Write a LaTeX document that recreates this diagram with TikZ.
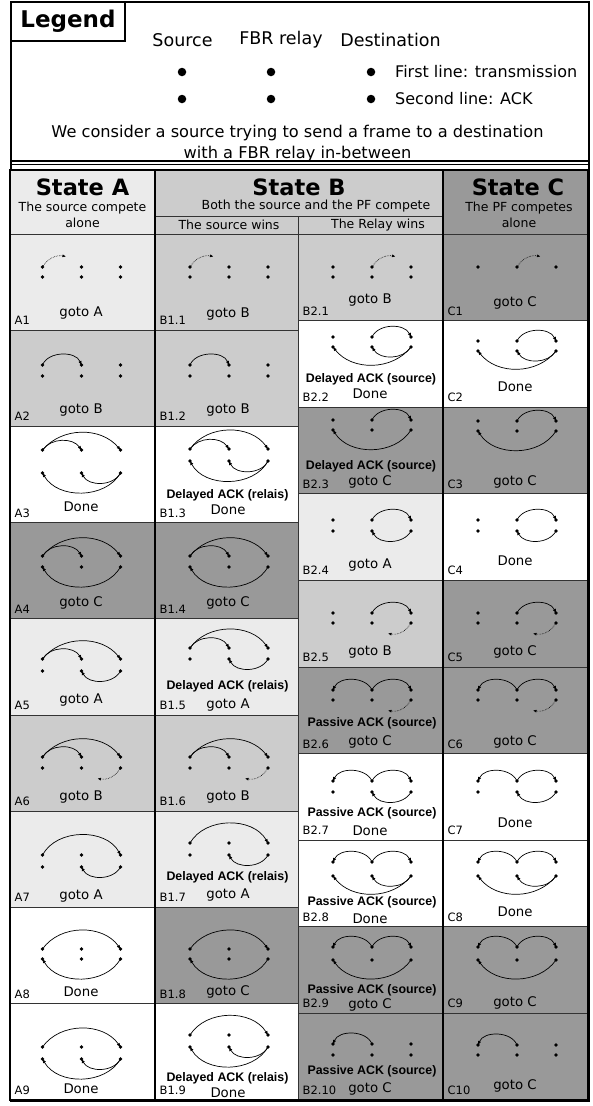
\documentclass[tikz,border=0pt]{standalone}
\usepackage{fontspec}
\setmainfont{DejaVu Sans}
\newfontfamily\arialfont{Liberation Sans}
\usetikzlibrary{arrows.meta,calc}
\definecolor{stA}{HTML}{EBEBEB}
\definecolor{stB}{HTML}{CCCCCC}
\definecolor{stC}{HTML}{999999}
\definecolor{rule}{HTML}{333333}

% six stations of one case: source, relay, destination (top: frame, bottom: ACK)
\newcommand\pts[4]{%
  \coordinate (#1-st) at (#2-39,#3);
  \coordinate (#1-rt) at (#2,#3);
  \coordinate (#1-dt) at (#2+39,#3);
  \coordinate (#1-sa) at (#2-39,#4);
  \coordinate (#1-ra) at (#2,#4);
  \coordinate (#1-da) at (#2+39,#4);}
\newcommand\showpts[2]{\foreach \q in {#2} \fill (#1-\q) circle (1.9);}
\newcommand\allpts[1]{\showpts{#1}{st,rt,dt,sa,ra,da}}
% collided frames
\newcommand\probeout[2]{%
  \coordinate (#1-pe) at ($(#1-#2)+(23.5,-10.5)$);
  \draw[probe] (#1-#2) to[bend left=35] (#1-pe);}
\newcommand\probeback[1]{%
  \coordinate (#1-pe) at ($(#1-da)+(-23,10.5)$);
  \draw[probe] (#1-da) to[bend left=35] (#1-pe);}

\begin{document}
\begin{tikzpicture}[x=1pt,y=-1pt,
    cellbox/.style={draw=rule,line width=0.8pt,anchor=north west,inner sep=0pt,outer sep=0pt},
    cellid/.style={anchor=base west,xshift=4.5pt,yshift=5.5pt,inner sep=0pt,font=\fontsize{11.5}{13}\selectfont},
    result/.style={inner sep=0pt,font=\fontsize{13.3}{15}\selectfont},
    ackmsg/.style={inner sep=0pt,font=\arialfont\bfseries\fontsize{12.4}{14}\selectfont},
    statetitle/.style={inner sep=0pt,font=\bfseries\fontsize{22.5}{26}\selectfont},
    statesub/.style={inner sep=0pt,align=center,font=\fontsize{12.5}{16.5}\selectfont},
    legtext/.style={inner sep=0pt,font=\fontsize{16}{22}\selectfont},
    legdot/.style={circle,fill,inner sep=0pt,minimum size=8.5pt},
    tx/.style={-{Latex[length=4pt,width=3.4pt]},line width=0.7pt},
    probe/.style={-{Latex[length=3.5pt,width=3pt]},line width=0.6pt,densely dotted}]
  \useasboundingbox (0,0) rectangle (592,1106);

  % legend
  \node[draw,line width=2.2pt,anchor=north west,inner sep=0pt,minimum width=577.5pt,minimum height=1099pt] (frame) at (10,1) {};
  \node[draw,line width=2pt,anchor=north west,inner sep=0pt,minimum width=114pt,minimum height=39pt,
    font=\bfseries\fontsize{23}{26}\selectfont] (legend) at (10,1) {Legend};
  \node[legtext,font=\fontsize{17.5}{20}\selectfont] (src) at (182.5,40) {Source};
  \node[legtext,font=\fontsize{17.5}{20}\selectfont] (fbr) at (281,40) {FBR relay};
  \node[legtext,font=\fontsize{17.5}{20}\selectfont] (dst) at (390.5,40) {Destination};
  \node[legdot] (src-t) at (182,72) {};
  \node[legdot] (fbr-t) at (271,72) {};
  \node[legdot] (dst-t) at (371,72) {};
  \node[legdot] (src-a) at (182,99) {};
  \node[legdot] (fbr-a) at (271,99) {};
  \node[legdot] (dst-a) at (371,99) {};
  \node[legtext,anchor=west] (line1) at (395,72) {First line: transmission};
  \node[legtext,anchor=west] (line2) at (395,99) {Second line: ACK};
  \node[legtext,align=center,font=\fontsize{16.2}{21.5}\selectfont] (story) at (297.5,143.5) {We consider a source trying to send a frame to a destination\\with a FBR relay in-between};
  \draw[line width=1.2pt] (10,161) -- (587.5,161);
  \draw[line width=1.2pt] (10,164.5) -- (587.5,164.5);

  % header
  \node[cellbox,fill=stA,minimum width=145pt,minimum height=64pt] (hA) at (10,170) {};
  \node[cellbox,fill=stB,minimum width=288pt,minimum height=46pt] (hB) at (155,170) {};
  \node[cellbox,fill=stB,minimum width=143pt,minimum height=18pt] (hBs) at (155,216) {};
  \node[cellbox,fill=stB,minimum width=145pt,minimum height=18pt] (hBr) at (298,216) {};
  \node[cellbox,fill=stC,minimum width=145pt,minimum height=64pt] (hC) at (443,170) {};
  \node[statetitle] (hA-t) at (82.5,187) {State A};
  \node[statesub] (hA-s) at (82.5,215) {The source compete\\alone};
  \node[statetitle] (hB-t) at (299,187) {State B};
  \node[statesub] (hB-s) at (316,206) {Both the source and the PF compete};
  \node[statesub] (hBs-t) at (229,225) {The source wins};
  \node[statesub] (hBr-t) at (378,225) {The Relay wins};
  \node[statetitle] (hC-t) at (518,187) {State C};
  \node[statesub] (hC-s) at (519,215) {The PF competes\\alone};

  % cases
  \foreach \i/\f [count=\k from 0] in {1/stA,2/stB,3/white,4/stC,5/stA,6/stB,7/stA,8/white,9/white}{
    \node[cellbox,fill=\f,minimum width=145pt,minimum height=96.2pt] (A\i) at (10,234+96.2*\k) {};
    \node[cellid] (A\i-id) at (A\i.south west) {A\i};}
  \foreach \i/\f [count=\k from 0] in {1/stB,2/stB,3/white,4/stC,5/stA,6/stB,7/stA,8/stC,9/white}{
    \node[cellbox,fill=\f,minimum width=143pt,minimum height=96.2pt] (Bs\i) at (155,234+96.2*\k) {};
    \node[cellid] (Bs\i-id) at (Bs\i.south west) {B1.\i};}
  \foreach \i/\f [count=\k from 0] in {1/stB,2/white,3/stC,4/stA,5/stB,6/stC,7/white,8/white,9/stC,10/stC}{
    \node[cellbox,fill=\f,minimum width=145pt,minimum height=86.6pt] (Br\i) at (298,234+86.6*\k) {};
    \node[cellid] (Br\i-id) at (Br\i.south west) {B2.\i};}
  \foreach \i/\f [count=\k from 0] in {1/stC,2/white,3/stC,4/white,5/stC,6/stC,7/white,8/white,9/stC,10/stC}{
    \node[cellbox,fill=\f,minimum width=145pt,minimum height=86.6pt] (C\i) at (443,234+86.6*\k) {};
    \node[cellid] (C\i-id) at (C\i.south west) {C\i};}

  % state A
  \pts{A1}{81.5}{267}{277}\allpts{A1}
  \probeout{A1}{st}
  \node[result] (A1-res) at (81,313) {goto A};
  \pts{A2}{81.5}{365}{376}\allpts{A2}
  \draw[tx] (A2-st) to[bend left=68] (A2-rt);
  \node[result] (A2-res) at (81,410) {goto B};
  \pts{A3}{81.5}{450}{473}\allpts{A3}
  \draw[tx] (A3-st) to[bend left=55] (A3-rt);
  \draw[tx] (A3-st) to[bend left=50] (A3-dt);
  \draw[tx] (A3-da) to[bend left=60] (A3-sa);
  \draw[tx] (A3-da) to[bend left=62] (A3-ra);
  \node[result] (A3-res) at (81,507) {Done};
  \pts{A4}{81.5}{556}{567}\allpts{A4}
  \draw[tx] (A4-st) to[bend left=60] (A4-rt);
  \draw[tx] (A4-st) to[bend left=52] (A4-dt);
  \draw[tx] (A4-da) to[bend left=60] (A4-sa);
  \node[result] (A4-res) at (81,603) {goto C};
  \pts{A5}{81.5}{659}{671}\allpts{A5}
  \draw[tx] (A5-st) to[bend left=60] (A5-rt);
  \draw[tx] (A5-st) to[bend left=52] (A5-dt);
  \draw[tx] (A5-da) to[bend left=62] (A5-ra);
  \node[result] (A5-res) at (81,700) {goto A};
  \pts{A6}{81.5}{757}{768}\allpts{A6}
  \draw[tx] (A6-st) to[bend left=60] (A6-rt);
  \draw[tx] (A6-st) to[bend left=52] (A6-dt);
  \probeback{A6}
  \node[result] (A6-res) at (81,797) {goto B};
  \pts{A7}{81.5}{855}{867}\allpts{A7}
  \draw[tx] (A7-st) to[bend left=62] (A7-dt);
  \draw[tx] (A7-da) to[bend left=62] (A7-ra);
  \node[result] (A7-res) at (81,896) {goto A};
  \pts{A8}{81.5}{949}{959}\allpts{A8}
  \draw[tx] (A8-st) to[bend left=55] (A8-dt);
  \draw[tx] (A8-da) to[bend left=60] (A8-sa);
  \node[result] (A8-res) at (81,992) {Done};
  \pts{A9}{81.5}{1047}{1059}\allpts{A9}
  \draw[tx] (A9-st) to[bend left=55] (A9-dt);
  \draw[tx] (A9-da) to[bend left=60] (A9-sa);
  \draw[tx] (A9-da) to[bend left=62] (A9-ra);
  \node[result] (A9-res) at (81,1089) {Done};

  % state B, the source wins
  \pts{Bs1}{229}{267}{277}\allpts{Bs1}
  \probeout{Bs1}{st}
  \node[result] (Bs1-res) at (228,314) {goto B};
  \pts{Bs2}{229}{365}{376}\allpts{Bs2}
  \draw[tx] (Bs2-st) to[bend left=68] (Bs2-rt);
  \node[result] (Bs2-res) at (228,410) {goto B};
  \pts{Bs3}{229}{449}{461}\allpts{Bs3}
  \draw[tx] (Bs3-st) to[bend left=55] (Bs3-rt);
  \draw[tx] (Bs3-st) to[bend left=55] (Bs3-dt);
  \draw[tx] (Bs3-da) to[bend left=62] (Bs3-sa);
  \draw[tx] (Bs3-da) to[bend left=65] (Bs3-ra);
  \node[ackmsg] (Bs3-ack) at (227.5,495) {Delayed ACK (relais)};
  \node[result] (Bs3-res) at (228,510) {Done};
  \pts{Bs4}{229}{556}{567}\allpts{Bs4}
  \draw[tx] (Bs4-st) to[bend left=60] (Bs4-rt);
  \draw[tx] (Bs4-st) to[bend left=52] (Bs4-dt);
  \draw[tx] (Bs4-da) to[bend left=60] (Bs4-sa);
  \node[result] (Bs4-res) at (228,603) {goto C};
  \pts{Bs5}{229}{648}{659}\allpts{Bs5}
  \draw[tx] (Bs5-st) to[bend left=60] (Bs5-rt);
  \draw[tx] (Bs5-st) to[bend left=55] (Bs5-dt);
  \draw[tx] (Bs5-da) to[bend left=62] (Bs5-ra);
  \node[ackmsg] (Bs5-ack) at (227.5,686) {Delayed ACK (relais)};
  \node[result] (Bs5-res) at (228,705) {goto A};
  \pts{Bs6}{229}{757}{768}\allpts{Bs6}
  \draw[tx] (Bs6-st) to[bend left=60] (Bs6-rt);
  \draw[tx] (Bs6-st) to[bend left=52] (Bs6-dt);
  \probeback{Bs6}
  \node[result] (Bs6-res) at (228,797) {goto B};
  \pts{Bs7}{229}{843}{855}\allpts{Bs7}
  \draw[tx] (Bs7-st) to[bend left=60] (Bs7-dt);
  \draw[tx] (Bs7-da) to[bend left=62] (Bs7-ra);
  \node[ackmsg] (Bs7-ack) at (227.5,877) {Delayed ACK (relais)};
  \node[result] (Bs7-res) at (228,895) {goto A};
  \pts{Bs8}{229}{949}{959}\allpts{Bs8}
  \draw[tx] (Bs8-st) to[bend left=55] (Bs8-dt);
  \draw[tx] (Bs8-da) to[bend left=60] (Bs8-sa);
  \node[result] (Bs8-res) at (228,992) {goto C};
  \pts{Bs9}{229}{1035}{1047}\allpts{Bs9}
  \draw[tx] (Bs9-st) to[bend left=58] (Bs9-dt);
  \draw[tx] (Bs9-da) to[bend left=60] (Bs9-sa);
  \draw[tx] (Bs9-da) to[bend left=62] (Bs9-ra);
  \node[ackmsg] (Bs9-ack) at (227.5,1078) {Delayed ACK (relais)};
  \node[result] (Bs9-res) at (228,1093) {Done};

  % state B, the relay wins
  \pts{Br1}{372}{267}{277}\allpts{Br1}
  \probeout{Br1}{rt}
  \node[result] (Br1-res) at (370,300) {goto B};
  \pts{Br2}{372}{337}{347}\allpts{Br2}
  \draw[tx] (Br2-rt) to[bend left=65] (Br2-dt);
  \draw[tx] (Br2-da) to[bend left=52] (Br2-sa);
  \draw[tx] (Br2-da) to[bend left=58] (Br2-ra);
  \node[ackmsg] (Br2-ack) at (371,379) {Delayed ACK (source)};
  \node[result] (Br2-res) at (370,394) {Done};
  \pts{Br3}{372}{420}{430}\allpts{Br3}
  \draw[tx] (Br3-rt) to[bend left=65] (Br3-dt);
  \draw[tx] (Br3-da) to[bend left=58] (Br3-sa);
  \node[ackmsg] (Br3-ack) at (371,466) {Delayed ACK (source)};
  \node[result] (Br3-res) at (370,482) {goto C};
  \pts{Br4}{372}{520}{531}\allpts{Br4}
  \draw[tx] (Br4-rt) to[bend left=65] (Br4-dt);
  \draw[tx] (Br4-da) to[bend left=62] (Br4-ra);
  \node[result] (Br4-res) at (370,565) {goto A};
  \pts{Br5}{372}{613}{623}\allpts{Br5}
  \draw[tx] (Br5-rt) to[bend left=65] (Br5-dt);
  \probeback{Br5}
  \node[result] (Br5-res) at (370,652) {goto B};
  \pts{Br6}{372}{690}{700}\allpts{Br6}
  \draw[tx] (Br6-rt) to[bend right=65] (Br6-st);
  \draw[tx] (Br6-rt) to[bend left=65] (Br6-dt);
  \probeback{Br6}
  \node[ackmsg] (Br6-ack) at (372,723) {Passive ACK (source)};
  \node[result] (Br6-res) at (370,742) {goto C};
  \pts{Br7}{372}{781}{792}\allpts{Br7}
  \draw[tx] (Br7-rt) to[bend right=65] (Br7-st);
  \draw[tx] (Br7-rt) to[bend left=65] (Br7-dt);
  \draw[tx] (Br7-da) to[bend left=62] (Br7-ra);
  \node[ackmsg] (Br7-ack) at (372,813) {Passive ACK (source)};
  \node[result] (Br7-res) at (370,831) {Done};
  \pts{Br8}{372}{862}{876}\allpts{Br8}
  \draw[tx] (Br8-rt) to[bend right=65] (Br8-st);
  \draw[tx] (Br8-rt) to[bend left=65] (Br8-dt);
  \draw[tx] (Br8-da) to[bend left=52] (Br8-sa);
  \draw[tx] (Br8-da) to[bend left=60] (Br8-ra);
  \node[ackmsg] (Br8-ack) at (372,902) {Passive ACK (source)};
  \node[result] (Br8-res) at (370,919) {Done};
  \pts{Br9}{372}{947}{960}\allpts{Br9}
  \draw[tx] (Br9-rt) to[bend right=65] (Br9-st);
  \draw[tx] (Br9-rt) to[bend left=65] (Br9-dt);
  \draw[tx] (Br9-da) to[bend left=55] (Br9-sa);
  \node[ackmsg] (Br9-ack) at (372,990) {Passive ACK (source)};
  \node[result] (Br9-res) at (370,1005) {goto C};
  \pts{Br10}{372}{1044}{1055}\allpts{Br10}
  \draw[tx] (Br10-rt) to[bend right=68] (Br10-st);
  \node[ackmsg] (Br10-ack) at (372,1071) {Passive ACK (source)};
  \node[result] (Br10-res) at (370,1089) {goto C};

  % state C
  \pts{C1}{517}{267}{277}\showpts{C1}{st,rt,dt}
  \probeout{C1}{rt}
  \node[result] (C1-res) at (515,303) {goto C};
  \pts{C2}{517}{341}{351}\allpts{C2}
  \draw[tx] (C2-rt) to[bend left=65] (C2-dt);
  \draw[tx] (C2-da) to[bend left=52] (C2-sa);
  \draw[tx] (C2-da) to[bend left=58] (C2-ra);
  \node[result] (C2-res) at (515,387) {Done};
  \pts{C3}{517}{421}{431}\allpts{C3}
  \draw[tx] (C3-rt) to[bend left=65] (C3-dt);
  \draw[tx] (C3-da) to[bend left=58] (C3-sa);
  \node[result] (C3-res) at (515,482) {goto C};
  \pts{C4}{517}{520}{531}\allpts{C4}
  \draw[tx] (C4-rt) to[bend left=65] (C4-dt);
  \draw[tx] (C4-da) to[bend left=62] (C4-ra);
  \node[result] (C4-res) at (515,561) {Done};
  \pts{C5}{517}{613}{623}\allpts{C5}
  \draw[tx] (C5-rt) to[bend left=65] (C5-dt);
  \probeback{C5}
  \node[result] (C5-res) at (515,652) {goto C};
  \pts{C6}{517}{690}{700}\allpts{C6}
  \draw[tx] (C6-rt) to[bend right=65] (C6-st);
  \draw[tx] (C6-rt) to[bend left=65] (C6-dt);
  \probeback{C6}
  \node[result] (C6-res) at (515,742) {goto C};
  \pts{C7}{517}{781}{792}\allpts{C7}
  \draw[tx] (C7-rt) to[bend right=65] (C7-st);
  \draw[tx] (C7-rt) to[bend left=65] (C7-dt);
  \draw[tx] (C7-da) to[bend left=62] (C7-ra);
  \node[result] (C7-res) at (515,823) {Done};
  \pts{C8}{517}{862}{876}\allpts{C8}
  \draw[tx] (C8-rt) to[bend right=65] (C8-st);
  \draw[tx] (C8-rt) to[bend left=65] (C8-dt);
  \draw[tx] (C8-da) to[bend left=52] (C8-sa);
  \draw[tx] (C8-da) to[bend left=60] (C8-ra);
  \node[result] (C8-res) at (515,912) {Done};
  \pts{C9}{517}{947}{960}\allpts{C9}
  \draw[tx] (C9-rt) to[bend right=65] (C9-st);
  \draw[tx] (C9-rt) to[bend left=65] (C9-dt);
  \draw[tx] (C9-da) to[bend left=55] (C9-sa);
  \node[result] (C9-res) at (515,1003) {goto C};
  \pts{C10}{517}{1045}{1055}\allpts{C10}
  \draw[tx] (C10-rt) to[bend right=68] (C10-st);
  \node[result] (C10-res) at (515,1086) {goto C};

  % heavy rules
  \draw[line width=2pt] (hB.north west) -- (Bs9.south west);
  \draw[line width=2pt] (hC.north west) -- (C10.south west);
  \draw[line width=2.2pt] (hA.north west) rectangle (C10.south east);
\end{tikzpicture}
\end{document}
